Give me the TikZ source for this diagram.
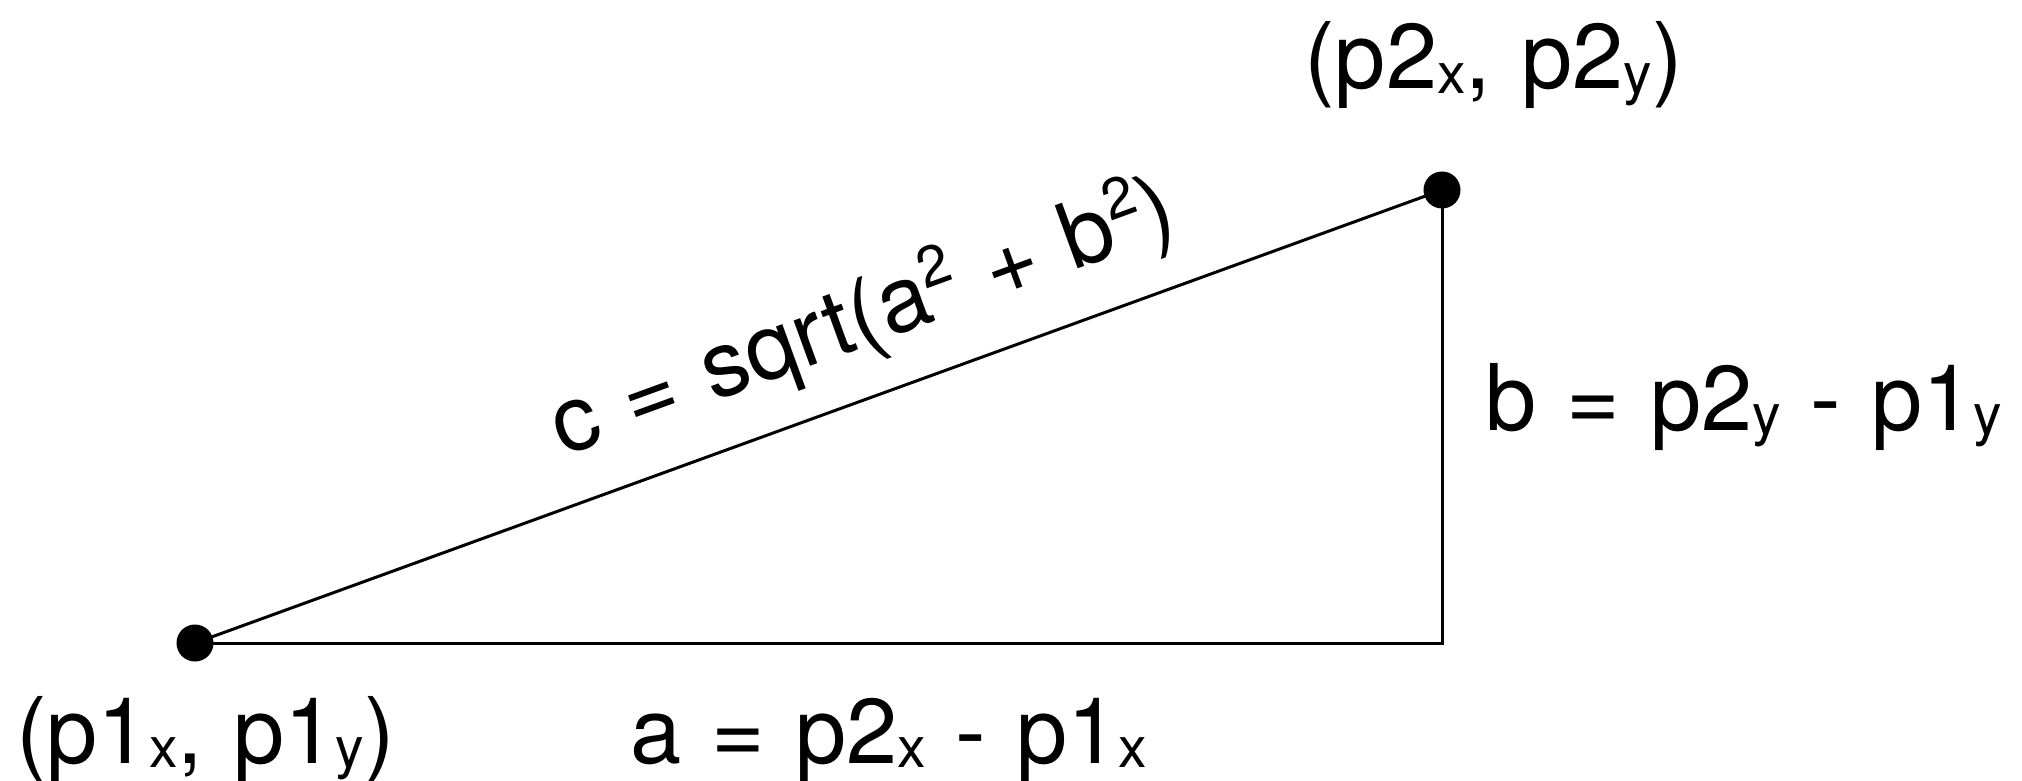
\documentclass[tikz,border=0pt]{standalone}
\usepackage{fontspec}
\setmainfont{TeX Gyre Heros}
\newcommand{\lo}[1]{\raisebox{-0.05em}{\fontsize{57}{66}\selectfont #1}}
\newcommand{\hi}[1]{\raisebox{0.36em}{\fontsize{57}{66}\selectfont #1}}
\newcommand{\lblfont}{\fontsize{92}{110}\selectfont\spaceskip=30pt\relax}
\begin{document}
\begin{tikzpicture}[x=1pt,y=-1pt,
  every node/.style={font=\lblfont, inner sep=0pt},
  dotmark/.style={circle, fill=black, minimum size=37pt, inner sep=0pt},
  edge/.style={line width=3pt, line join=miter},
  lbl/.style={anchor=base west}]
\useasboundingbox (0,0) rectangle (2022,781);
\coordinate (P1) at (195,643);
\coordinate (P2) at (1442,190);
\coordinate (RC) at (1442,643);
\draw[edge] (P1) -- (RC) -- (P2);
\draw[edge] (P1) -- (P2);
\node[dotmark] (p1) at (P1) {};
\node[dotmark] (p2) at (P2) {};
\node[lbl] (l1) at (16,763) {(p1\lo{x}, p1\lo{y})};
\node[lbl] (la) at (630,763) {a = p2\lo{x} - p1\lo{x}};
\node[lbl] (l2) at (1304,89) {(p2\lo{x}, p2\lo{y})};
\node[lbl] (lb) at (1485,430) {b = p2\lo{y} - p1\lo{y}};
\node[rotate=20, anchor=base] (lc) at (872,344) {c = sqrt(a\hi{2} + b\hi{2})};
\end{tikzpicture}
\end{document}
